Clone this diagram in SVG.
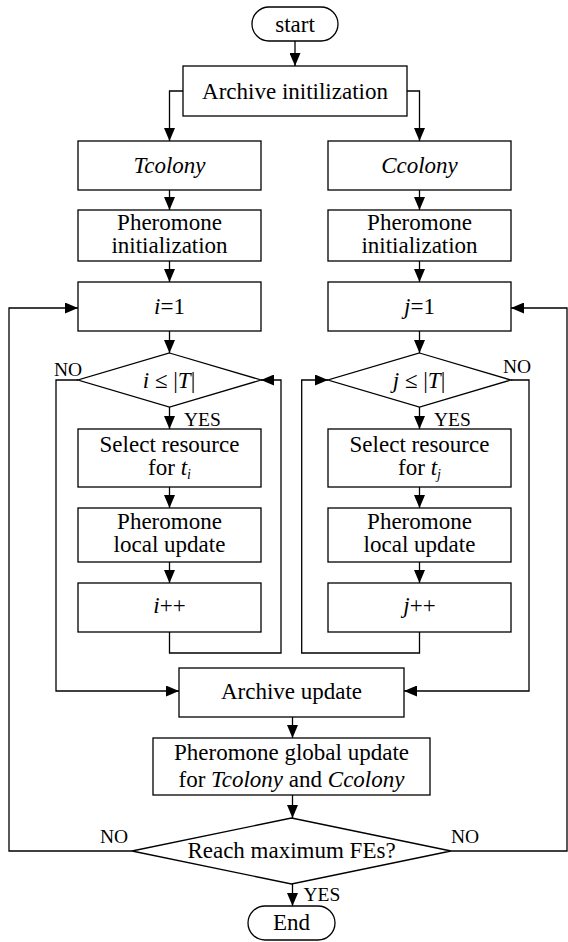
<svg xmlns="http://www.w3.org/2000/svg" width="568" height="942" viewBox="0 0 568 942">
<style>
.n{fill:#fff;stroke:#000;stroke-width:1.3}
.c{fill:none;stroke:#000;stroke-width:1.3}
text{font-family:'Liberation Serif',Tinos,'Times New Roman','DejaVu Serif',serif;font-size:23px;fill:#000}
.m{text-anchor:middle}
.s{font-size:19.5px}
.i{font-style:italic}
.sub{font-size:14px;font-style:italic}
</style>
<defs>
<marker id="a" markerUnits="userSpaceOnUse" markerWidth="13" markerHeight="11" refX="13" refY="5.5" orient="auto">
<path d="M0,0 L13,5.5 L0,11 z" fill="#000"/>
</marker>
</defs>
<rect width="568" height="942" fill="#fff"/>
<g id="connectors" class="c" marker-end="url(#a)">
<path d="M295 41 V66"/>
<path d="M183 91 H169.5 V141"/>
<path d="M407 91 H419.5 V141"/>
<path d="M169.5 190 V210"/>
<path d="M419.5 190 V210"/>
<path d="M169.5 261 V282"/>
<path d="M419.5 261 V282"/>
<path d="M169.5 331 V353"/>
<path d="M419.5 331 V353"/>
<path d="M169.5 407 V429"/>
<path d="M419.5 407 V429"/>
<path d="M169.5 487 V508"/>
<path d="M419.5 487 V508"/>
<path d="M169.5 562 V583"/>
<path d="M419.5 562 V583"/>
<path d="M169.5 632 V653 H281 V380 H261"/>
<path d="M419.5 632 V653 H301.7 V380 H328"/>
<path d="M78 380 H56 V691 H179"/>
<path d="M511 380 H529 V691 H404"/>
<path d="M292.5 717 V738"/>
<path d="M292.5 795 V818"/>
<path d="M292.5 884 V906"/>
<path d="M132 851 H9 V308 H78"/>
<path d="M451 851 H567 V308 H511"/>
</g>
<g id="start"><rect class="n" x="252" y="7" width="86" height="34" rx="17"/><text class="m" x="295" y="31.5">start</text></g>
<g id="archive-init"><rect class="n" x="183" y="66" width="224" height="50"/><text class="m" x="295" y="98.5">Archive initilization</text></g>
<g id="tcolony"><rect class="n" x="78" y="141" width="183" height="49"/><text class="m i" x="169.5" y="173">Tcolony</text></g>
<g id="ccolony"><rect class="n" x="328" y="141" width="183" height="49"/><text class="m i" x="419.5" y="173">Ccolony</text></g>
<g id="pher-init-t"><rect class="n" x="78" y="210" width="183" height="51"/><text class="m" x="169.5" y="229.5">Pheromone</text><text class="m" x="169.5" y="253">initialization</text></g>
<g id="pher-init-c"><rect class="n" x="328" y="210" width="183" height="51"/><text class="m" x="419.5" y="229.5">Pheromone</text><text class="m" x="419.5" y="253">initialization</text></g>
<g id="i1"><rect class="n" x="78" y="282" width="183" height="49"/><text class="m" x="169.5" y="314"><tspan class="i">i</tspan>=1</text></g>
<g id="j1"><rect class="n" x="328" y="282" width="183" height="49"/><text class="m" x="419.5" y="314"><tspan class="i">j</tspan>=1</text></g>
<g id="cond-i"><polygon class="n" points="169.5,353 261,380 169.5,407 78,380"/><text class="m" x="169" y="388"><tspan class="i">i</tspan> ≤ |<tspan class="i">T</tspan>|</text></g>
<g id="cond-j"><polygon class="n" points="419.5,353 511,380 419.5,407 328,380"/><text class="m" x="419" y="388"><tspan class="i">j</tspan> ≤ |<tspan class="i">T</tspan>|</text></g>
<g id="labels-ij">
<text class="s" x="54" y="376">NO</text>
<text class="s" x="184" y="425.5">YES</text>
<text class="s" x="503" y="373">NO</text>
<text class="s" x="434" y="425.5">YES</text>
</g>
<g id="select-i"><rect class="n" x="78" y="429" width="183" height="58"/><text class="m" x="169.5" y="452">Select resource</text><text class="m" x="169.5" y="475">for <tspan class="i">t</tspan><tspan class="sub" dy="4">i</tspan></text></g>
<g id="select-j"><rect class="n" x="328" y="429" width="183" height="58"/><text class="m" x="419.5" y="452">Select resource</text><text class="m" x="419.5" y="475">for <tspan class="i">t</tspan><tspan class="sub" dy="4">j</tspan></text></g>
<g id="local-i"><rect class="n" x="78" y="508" width="183" height="54"/><text class="m" x="169.5" y="529">Pheromone</text><text class="m" x="169.5" y="552">local update</text></g>
<g id="local-j"><rect class="n" x="328" y="508" width="183" height="54"/><text class="m" x="419.5" y="529">Pheromone</text><text class="m" x="419.5" y="552">local update</text></g>
<g id="inc-i"><rect class="n" x="78" y="583" width="183" height="49"/><text class="m" x="169.5" y="613"><tspan class="i">i</tspan>++</text></g>
<g id="inc-j"><rect class="n" x="328" y="583" width="183" height="49"/><text class="m" x="419.5" y="613"><tspan class="i">j</tspan>++</text></g>
<g id="archive-update"><rect class="n" x="179" y="668" width="225" height="49"/><text class="m" x="291.5" y="699">Archive update</text></g>
<g id="global-update"><rect class="n" x="153" y="738" width="277" height="57"/><text class="m" x="291.5" y="760">Pheromone global update</text><text class="m" x="291.5" y="786.5">for <tspan class="i">Tcolony</tspan> and <tspan class="i">Ccolony</tspan></text></g>
<g id="max-fes"><polygon class="n" points="291.5,818 451,851 291.5,884 132,851"/><text class="m" x="291.5" y="858">Reach maximum FEs?</text></g>
<g id="labels-bottom">
<text class="s" x="100" y="843">NO</text>
<text class="s" x="451" y="843">NO</text>
<text class="s" x="303.5" y="901">YES</text>
</g>
<g id="end"><rect class="n" x="248" y="906" width="87" height="34" rx="17"/><text class="m" x="291.5" y="929.5">End</text></g>
</svg>
